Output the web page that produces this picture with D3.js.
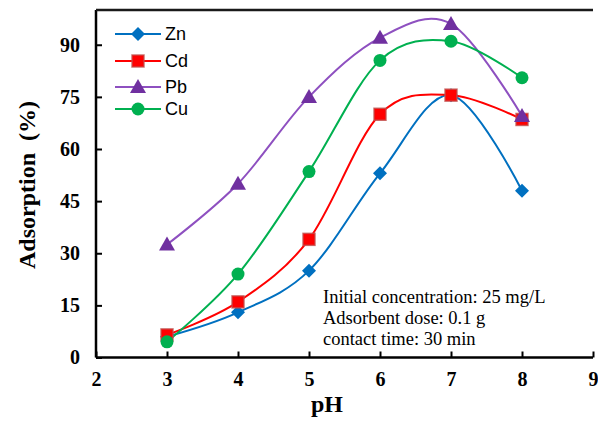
<!DOCTYPE html>
<html><head><meta charset="utf-8">
<script src="https://cdn.jsdelivr.net/npm/d3@7"></script>
<style>body{margin:0;background:#fff}svg{display:block}</style>
</head><body><svg id="c" width="598" height="423"></svg>
<script>
const pH = [3, 4, 5, 6, 7, 8];
const zn = [6, 13, 25, 53, 75.5, 48];
const cd = [6.5, 16, 34, 70, 75.5, 68.5];
const pb = [32.5, 50, 75, 92, 96, 69.5];
const cu = [4.5, 24, 53.5, 85.5, 91, 80.5];
const xTicks = [2, 3, 4, 5, 6, 7, 8, 9];
const yTicks = [0, 15, 30, 45, 60, 75, 90];
const seriesNames = ["Zn", "Cd", "Pb", "Cu"];
const notes = ["Initial concentration: 25 mg/L", "Adsorbent dose: 0.1 g", "contact time: 30 min"];

const series = [
  {name: "Zn", vals: zn, line: "#0070C0", fill: "#0070C0", stroke: "none", sym: "diamond"},
  {name: "Cd", vals: cd, line: "#FF0000", fill: "#FF0000", stroke: "rgba(192,80,77,0.8)", sym: "square"},
  {name: "Pb", vals: pb, line: "#8E50C0", fill: "#7030A0", stroke: "none", sym: "triangle"},
  {name: "Cu", vals: cu, line: "#00B050", fill: "#00B050", stroke: "none", sym: "circle"}
];

const svg = d3.select("#c");
const L = 96, R = 593, T = 10, B = 357.5;
const x = d3.scaleLinear().domain([2, 9]).range([L, R]);
const y = d3.scaleLinear().domain([0, 100]).range([B, T]);

function marker(g, sym, cx, cy) {
  if (sym === "diamond") {
    const d = 7;
    g.append("path").attr("d", `M${cx},${cy-d}L${cx+d},${cy}L${cx},${cy+d}L${cx-d},${cy}Z`);
  } else if (sym === "square") {
    g.append("rect").attr("x", cx-6).attr("y", cy-6).attr("width", 12).attr("height", 12);
  } else if (sym === "triangle") {
    g.append("path").attr("d", `M${cx},${cy-8}L${cx+8},${cy+6}L${cx-8},${cy+6}Z`);
  } else {
    g.append("circle").attr("cx", cx).attr("cy", cy).attr("r", 6.5);
  }
}

// axes
const xAxis = svg.append("g").attr("transform", `translate(0,${B})`)
  .call(d3.axisBottom(x).tickValues(xTicks).tickFormat(d3.format("d"))
    .tickSizeInner(-6).tickSizeOuter(0).tickPadding(14));
const yAxis = svg.append("g").attr("transform", `translate(${L},0)`)
  .call(d3.axisLeft(y).tickValues(yTicks).tickFormat(d3.format("d"))
    .tickSizeInner(-6).tickSizeOuter(0).tickPadding(16));
[xAxis, yAxis].forEach(a => {
  a.select(".domain").attr("stroke", "#000").attr("stroke-width", 2.5);
  a.selectAll(".tick line").attr("stroke", "#000").attr("stroke-width", 2);
  a.selectAll("text").attr("font-family", "Liberation Serif").attr("font-weight", "bold")
    .attr("font-size", 20).attr("fill", "#000");
});
xAxis.select(".domain").attr("d", `M${L},0H${R}`);
yAxis.select(".domain").attr("d", `M0,${B}V${T}`);
// top border
svg.append("line").attr("x1", L).attr("x2", R).attr("y1", T).attr("y2", T)
  .attr("stroke", "#1a1a1a").attr("stroke-width", 2.5);

// lines
const lineGen = d3.line().curve(d3.curveCatmullRom.alpha(0))
  .x((d, i) => x(pH[i])).y(d => y(d));
series.forEach(s => {
  svg.append("path").attr("d", lineGen(s.vals)).attr("fill", "none")
    .attr("stroke", s.line).attr("stroke-width", 2);
});
series.forEach(s => {
  const g = svg.append("g").attr("fill", s.fill).attr("stroke", s.stroke).attr("stroke-width", 1.5);
  s.vals.forEach((v, i) => marker(g, s.sym, x(pH[i]), y(v)));
});

// legend
const legY = [34, 61, 87, 109];
series.forEach((s, i) => {
  svg.append("line").attr("x1", 115).attr("x2", 161).attr("y1", legY[i]).attr("y2", legY[i])
    .attr("stroke", s.line).attr("stroke-width", 2);
  const g = svg.append("g").attr("fill", s.fill).attr("stroke", s.stroke).attr("stroke-width", 1.5);
  marker(g, s.sym, 138, legY[i]);
  svg.append("text").attr("x", 165).attr("y", legY[i] + 6).text(seriesNames[i])
    .attr("font-family", "Liberation Sans").attr("font-size", 18).attr("fill", "#000");
});

// notes
notes.forEach((t, i) => {
  svg.append("text").attr("x", 323).attr("y", 303 + i * 21).text(t)
    .attr("font-family", "Liberation Serif").attr("font-size", 18.5).attr("fill", "#000");
});

// axis titles
svg.append("text").attr("x", 327).attr("y", 412).attr("text-anchor", "middle").text("pH")
  .attr("font-family", "Liberation Serif").attr("font-weight", "bold").attr("font-size", 24);
svg.append("text").attr("transform", "translate(35,185) rotate(-90)").attr("text-anchor", "middle")
  .text("Adsorption\u00a0\u00a0(%)")
  .attr("font-family", "Liberation Serif").attr("font-weight", "bold").attr("font-size", 24);
</script></body></html>
